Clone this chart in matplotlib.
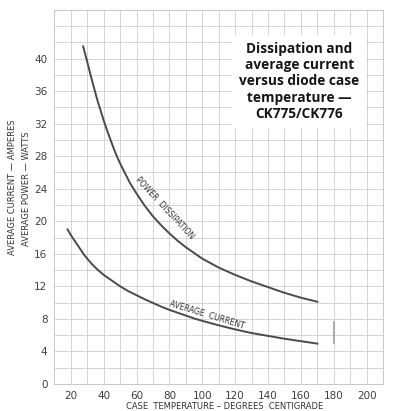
import numpy as np
import matplotlib.pyplot as plt

# values
temp_power = [27.5, 30, 32, 34, 36, 38, 40, 42, 44, 46, 48, 50, 53, 56, 60, 65, 70, 75,
              80, 85, 90, 95, 100, 110, 120, 130, 140, 150, 160, 170]
power_watts = [41.5, 39.6, 38.0, 36.5, 35.0, 33.7, 32.4, 31.2, 30.1, 29.0, 28.0, 27.1, 25.9,
               24.7, 23.4, 21.9, 20.6, 19.5, 18.5, 17.6, 16.8, 16.1, 15.4, 14.3, 13.4, 12.6,
               11.9, 11.2, 10.6, 10.1]

temp_current = [18, 20, 22, 25, 28, 30, 33, 36, 40, 45, 50, 55, 60, 65, 70, 75, 80, 85, 90,
                95, 100, 110, 120, 130, 140, 150, 160, 170]
current_amps = [19.0, 18.3, 17.7, 16.8, 15.9, 15.4, 14.7, 14.1, 13.4, 12.7, 12.0, 11.4, 10.9,
                10.4, 9.95, 9.5, 9.1, 8.75, 8.4, 8.05, 7.75, 7.2, 6.7, 6.25, 5.9, 5.55, 5.25, 4.95]

x_labels = np.arange(20, 201, 20)
y_labels = np.arange(0, 41, 4)

fig = plt.figure(figsize=(3.97, 4.11), dpi=100)
ax = fig.add_axes([0.137, 0.066, 0.828, 0.910])

ax.set_xlim(10, 210)
ax.set_ylim(0, 46)

# graph paper grid
ax.set_xticks(np.arange(10, 211, 10), minor=True)
ax.set_yticks(np.arange(0, 47, 2), minor=True)
ax.set_xticks(x_labels)
ax.set_yticks(y_labels)
ax.grid(True, which='both', color='#cdcdcd', lw=0.6)
ax.tick_params(which='both', length=0, labelsize=7.5, colors='#404040', pad=5)
for s in ax.spines.values():
    s.set_color('#c8c8c8')
    s.set_linewidth(0.7)

ax.plot(temp_power, power_watts, color='#4a4a4a', lw=1.4)
ax.plot(temp_current, current_amps, color='#4a4a4a', lw=1.4)

# scanning mark near 180
ax.plot([180, 180], [5.0, 7.6], color='#a0a0a0', lw=1.2)

ax.text(77, 21.6, 'POWER  DISSIPATION', fontsize=5.6, rotation=-47,
        rotation_mode='anchor', ha='center', va='center', color='#333333')
ax.text(103, 8.5, 'AVERAGE  CURRENT', fontsize=5.6, rotation=-17,
        rotation_mode='anchor', ha='center', va='center', color='#333333')

ax.text(159, 37.2, 'Dissipation and\naverage current\nversus diode case\ntemperature \u2014\nCK775/CK776',
        fontsize=9.8, fontweight='bold', family='Open Sans', ha='center', va='center',
        linespacing=1.2, color='#151515',
        bbox=dict(facecolor='white', edgecolor='none', pad=5))

fig.text(0.031, 0.545, 'AVERAGE CURRENT \u2014 AMPERES', rotation=90, fontsize=6,
         ha='center', va='center', color='#333333')
fig.text(0.068, 0.54, 'AVERAGE POWER \u2014 WATTS', rotation=90, fontsize=6,
         ha='center', va='center', color='#333333')
fig.text(0.565, 0.012, 'CASE  TEMPERATURE \u2013 DEGREES  CENTIGRADE', fontsize=6,
         ha='center', va='center', color='#333333')

fig.savefig('out.png', dpi=100, facecolor='white')
